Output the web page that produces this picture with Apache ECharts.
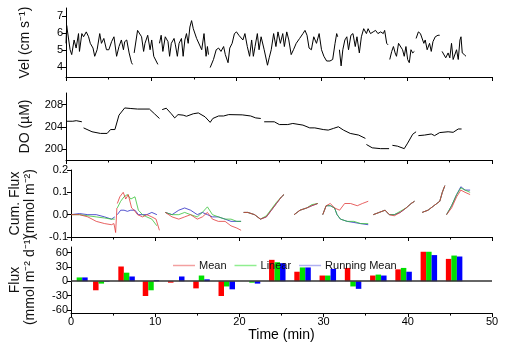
<!DOCTYPE html>
<html>
<head>
<meta charset="utf-8">
<script src="https://cdn.jsdelivr.net/npm/echarts@6/dist/echarts.min.js"></script>
<style>html,body{margin:0;padding:0;background:#fff;}#c{width:506px;height:343px;}</style>
</head>
<body>
<div id="c"></div>
<script>
// ---------- Velocity (cm s-1), segments of [time(min), value] ----------
const velSeg1 = [[0,5.4],[0.08,6.46],[0.48,5.02],[0.67,4.73],[0.95,5.6],[1.19,5.12],[1.47,5.98],[1.58,4.92],[1.86,5.98],[2.06,5.79],[2.38,6.08],[2.65,5.79],[2.85,5.4],[3.17,5.12],[3.37,4.63],[3.65,5.02],[3.96,5.98],[4.16,5.4],[4.44,5.69],[4.75,5.02],[5.03,5.02],[5.35,5.5],[5.63,5.79],[5.94,4.63],[6.22,5.21],[6.5,5.6],[6.74,5.02],[6.89,5.5],[7.13,5.6],[7.41,4.83],[7.69,4.25],[7.81,4.15]];
const velSeg2 = [[8.0,4.83],[8.4,6.17],[8.6,6.27],[8.87,5.79],[9.11,4.92],[9.27,5.4],[9.59,5.88],[9.87,5.02],[10.06,5.6],[10.3,4.63],[10.46,4.54],[10.78,4.15]];
const velSeg3 = [[10.97,5.4],[11.17,5.88],[11.37,4.92],[11.65,5.79],[11.97,5.5],[12.16,4.63],[12.36,5.4],[12.68,5.69],[12.84,5.31],[13.07,4.63],[13.27,5.4],[13.55,5.69],[13.75,4.63],[13.95,5.6],[14.14,5.98],[14.34,5.4],[14.54,6.37],[14.74,6.75],[14.94,6.27],[15.13,6.27],[15.33,5.69],[15.53,5.79],[15.93,5.02],[16.2,5.98],[16.44,4.63],[16.6,5.21],[16.72,4.73]];
const velSeg4 = [[16.92,3.96],[17.31,4.44],[17.63,5.02],[17.91,5.12],[18.19,4.92],[18.5,5.21],[18.7,4.73],[19.02,4.25],[19.22,5.12],[19.5,5.4],[19.77,5.98],[20.01,6.08],[20.29,5.88],[20.52,5.98],[20.76,5.6],[21.0,5.98],[21.28,5.21],[21.55,4.63],[21.79,5.6],[21.99,4.63],[22.19,5.21],[22.46,5.98],[22.66,5.02],[22.9,5.79],[23.26,5.02],[23.65,4.1],[23.85,4.54],[24.09,5.02],[24.37,5.98],[24.64,5.21],[24.88,6.08],[25.16,5.4],[25.44,5.98],[25.63,5.21],[25.91,6.08],[26.15,5.6],[26.43,4.73],[26.7,5.02],[27.02,5.4],[27.42,5.69],[27.81,5.98],[28.05,6.17],[28.29,5.88],[28.53,5.12],[28.8,5.02],[29.08,5.79],[29.4,5.4],[29.71,5.98],[29.99,5.02],[30.27,4.63],[30.59,4.35],[30.98,4.35],[31.3,4.44],[31.58,5.4],[31.77,5.98],[31.89,5.79]];
const velSeg5 = [[32.09,5.02],[32.29,4.06],[32.49,5.02],[32.73,5.6],[32.96,5.79],[33.16,5.02],[33.44,5.88],[33.68,5.98],[33.95,5.21],[34.15,5.79],[34.43,4.83],[34.67,5.79],[34.94,6.27],[35.26,5.98],[35.46,6.27],[35.74,5.98],[36.05,6.08],[36.33,6.17],[36.61,5.98],[36.93,6.08],[37.24,5.98],[37.4,6.17],[37.64,5.4],[37.8,5.31]];
const velSeg6 = [[38.0,4.44],[38.23,4.92],[38.43,5.21],[38.63,4.83],[38.79,4.63],[39.03,5.4],[39.22,5.5],[39.5,5.02],[39.7,4.63],[39.9,5.21],[40.1,4.44],[40.29,4.25],[40.49,5.02],[40.69,4.83],[40.89,4.92]];
const velSeg7 = [[41.09,5.69],[41.36,6.08],[41.6,5.98],[41.76,6.08],[42.0,5.4],[42.16,5.6],[42.39,5.02],[42.67,5.4],[42.87,4.92],[43.07,5.5],[43.34,5.79],[43.66,5.88],[43.86,5.88]];
const velSeg8 = [[44.14,4.92],[44.37,5.02],[44.57,4.54],[44.85,4.83],[45.05,4.54],[45.25,5.4],[45.44,4.44],[45.64,4.44],[45.84,5.02],[46.04,4.44],[46.24,5.6],[46.36,5.79],[46.51,4.83],[46.75,4.73],[46.95,4.63]];

// ---------- DO (µM) ----------
const doSeg1 = [[0,205.0],[0.8,205.0],[1.2,205.1],[1.86,204.9]];
const doSeg2 = [[2.06,203.8],[3.05,203.1],[4.04,202.8],[4.83,202.8],[5.23,203.5],[5.74,203.5],[6.22,206.1],[6.89,207.4],[7.61,207.3],[8.4,207.2],[9.79,207.2],[10.38,206.35],[10.97,205.5]];
const doSeg3 = [[11.29,207.1],[11.77,207.35],[12.36,206.35],[12.76,205.6],[13.15,206.2],[13.75,206.1],[14.14,205.9],[14.94,206.35],[15.53,206.5],[16.32,205.8],[16.92,204.8],[17.23,205.5],[17.91,205.95],[18.5,205.95],[19.1,206.2],[20.68,206.15],[21.67,205.95],[22.27,205.6],[22.86,205.5]];
const doSeg4 = [[23.26,204.9],[24.45,204.9],[25.04,204.4],[26.03,204.4],[26.62,204.6],[27.81,204.3],[28.61,203.8],[29.2,203.8],[30.19,203.5],[30.78,203.4],[31.38,203.7],[31.97,204.0],[32.57,203.4],[33.36,202.8],[34.35,202.5],[35.14,201.9]];
const doSeg5 = [[35.26,200.8],[35.94,200.2],[36.93,200.05],[37.92,200.05]];
const doSeg6 = [[38.31,200.65],[38.91,200.5],[39.7,200.05],[40.1,201.05],[40.69,202.65],[41.09,203.1]];
const doSeg7 = [[41.36,202.4],[42.08,202.5],[42.87,202.7],[43.26,202.4],[43.86,202.95],[44.85,203.1],[45.44,203.0],[46.04,203.6],[46.43,203.6]];

// ---------- Cumulative flux (mmol m-2) ----------
const cumMean = [
 [[0,0],[1,0],[2,-0.01],[3,-0.03],[4,-0.04],[4.8,-0.045],[5.1,-0.04],[5.3,-0.08],[5.45,0.03]],
 [[5.5,0.05],[5.8,0.08],[6.2,0.1],[6.5,0.07],[6.8,0.09],[7.2,0.03],[7.5,0.02],[7.9,0.0],[8.5,-0.01],[9,0],[9.6,-0.01],[10.1,-0.02],[10.5,-0.07]],
 [[11.2,0.01],[12,-0.01],[12.8,-0.02],[13.5,-0.01],[14.2,0.0],[15,-0.02],[15.6,-0.01],[16.2,0.01],[16.8,-0.02],[17.5,-0.03],[18.3,-0.03],[19,-0.05],[19.7,-0.06],[20.2,-0.07]],
 [[20.5,0.01],[21,0.01],[21.8,0.0],[22.5,-0.02],[23.2,-0.01],[23.8,0.02],[24.4,0.05],[25,0.08],[25.3,0.09]],
 [[26.5,0.0],[27.2,0.02],[28,0.03],[28.6,0.04],[29.3,0.05]],
 [[29.9,0.0],[30.3,0.04],[30.8,0.05],[31.3,0.03],[31.9,0.02],[32.5,0.05],[33.2,0.05],[34,0.04],[34.6,0.05],[35.3,0.06]],
 [[35.9,0.0],[36.6,0.01],[37.3,0.02],[37.8,0.0],[38.4,-0.005],[39.1,0.01],[39.8,0.03],[40.4,0.05],[40.8,0.06]],
 [[41.7,0.01],[42.4,0.02],[43.1,0.04],[43.8,0.06],[44.1,0.1],[44.4,0.13]],
 [[44.6,0.0],[45.2,0.03],[45.8,0.08],[46.3,0.11],[46.8,0.1],[47.4,0.09]]
];
const cumLinear = [
 [[0,0],[1,0.0],[2,-0.005],[3,-0.01],[4,-0.015],[4.8,-0.02],[5.2,-0.02]],
 [[5.5,0.03],[5.9,0.06],[6.3,0.08],[6.7,0.09],[7.1,0.07],[7.6,0.08],[8,0.02],[8.5,0.0],[9,-0.01],[9.6,-0.02],[10.2,-0.05]],
 [[11.2,0.01],[12,0.0],[12.8,0.0],[13.5,0.01],[14.2,0.0],[15,-0.01],[15.6,0.01],[16.2,0.035],[16.8,0.0],[17.5,-0.01],[18.3,-0.02],[19,-0.02],[19.7,-0.03],[20.2,-0.03]],
 [[20.5,0.01],[21,0.01],[21.8,0.0],[22.5,-0.02],[23.2,-0.005],[23.8,0.025],[24.4,0.055],[25,0.08],[25.3,0.09]],
 [[26.5,0.0],[27.2,0.02],[28,0.03],[28.6,0.045],[29.3,0.05]],
 [[29.9,0.0],[30.3,0.04],[30.8,0.04],[31.3,0.03],[31.6,0.0],[32,-0.02],[32.8,-0.03],[33.6,-0.03],[34.4,-0.04],[35.3,-0.04]],
 [[35.9,0.0],[36.6,0.01],[37.3,0.02],[37.8,0.0],[38.4,0.0],[39.1,0.015],[39.8,0.03],[40.4,0.05],[40.8,0.06]],
 [[41.7,0.01],[42.4,0.02],[43.1,0.04],[43.8,0.06],[44.1,0.1],[44.4,0.13]],
 [[44.6,0.0],[45.2,0.04],[45.8,0.09],[46.3,0.12],[46.8,0.11],[47.4,0.1]]
];
const cumRunning = [
 [[0,0],[1,0.005],[2,0.0],[3,0.0],[4,-0.01],[4.8,-0.02],[5.2,-0.01]],
 [[5.5,0.0],[5.9,0.02],[6.3,0.02],[6.7,0.015],[7.1,0.02],[7.6,0.02],[8,0.0],[8.5,0.0],[9,0.0],[9.6,0.01],[10.2,0.0]],
 [[11.2,0.01],[12,0.0],[12.8,0.02],[13.5,0.03],[14.2,0.02],[15,0.0],[15.6,0.01],[16.2,0.0],[16.8,-0.01],[17.5,-0.01],[18.3,-0.02],[19,-0.03],[19.7,-0.03],[20.2,-0.03]],
 [[20.5,0.01],[21,0.01],[21.8,0.0],[22.5,-0.02],[23.2,-0.01],[23.8,0.02],[24.4,0.05],[25,0.08],[25.3,0.09]],
 [[26.5,0.0],[27.2,0.02],[28,0.03],[28.6,0.04],[29.3,0.05]],
 [[29.9,0.0],[30.3,0.04],[30.8,0.04],[31.3,0.03],[31.6,0.0],[32,-0.02],[32.8,-0.03],[33.6,-0.035],[34.4,-0.04],[35.3,-0.045]],
 [[35.9,0.0],[36.6,0.01],[37.3,0.02],[37.8,0.0],[38.4,0.0],[39.1,0.01],[39.8,0.03],[40.4,0.05],[40.8,0.06]],
 [[41.7,0.01],[42.4,0.02],[43.1,0.04],[43.8,0.06],[44.1,0.1],[44.4,0.13]],
 [[44.6,0.0],[45.2,0.04],[45.8,0.09],[46.3,0.125],[46.8,0.11],[47.4,0.11]]
];

// ---------- Flux (mmol m-2 d-1) bars ----------
const fluxTimes   = [1.0, 3.6, 6.6, 9.5, 12.5, 15.5, 18.5, 21.5, 24.5, 27.5, 30.5, 33.5, 36.5, 39.5, 42.5, 45.5];
const fluxMean    = [0, -19, 31, -31, -3, -15, -31, 0, 45, 20, 12, 28, 12, 25, 62, 47];
const fluxLinear  = [8, -5, 18, -19, 0, 12, -11, -3, 40, 29, 12, -11, 14, 28, 62, 54];
const fluxRunning = [8, -1, 10, 2, 10, 4, -17, -5, 38, 29, 26, -16, 12, 20, 55, 52];

// ---------- tick labels ----------
const timeTicks = [0, 10, 20, 30, 40, 50];
const velTicks = [4, 5, 6, 7];
const doTicks = [200, 204, 208];
const cumTicks = [-0.1, 0.0, 0.1, 0.2];
const fluxTicks = [-60, -30, 0, 30, 60];

const velSegments = [velSeg1, velSeg2, velSeg3, velSeg4, velSeg5, velSeg6, velSeg7, velSeg8];
const doSegments = [doSeg1, doSeg2, doSeg3, doSeg4, doSeg5, doSeg6, doSeg7];

function joinSegs(segs) {
  const out = [];
  segs.forEach((s, i) => {
    if (i > 0) out.push([s[0][0], null]);
    s.forEach(p => out.push(p));
  });
  return out;
}

const FONT = "'Liberation Sans', Arial, sans-serif";
const grids = [
  {left: 66, right: 14, top: 8, height: 69},
  {left: 66, right: 14, top: 93, height: 67},
  {left: 66, right: 14, top: 170, height: 67},
  {left: 66, right: 14, top: 247, height: 69}
];

function xAx(i) {
  const last = i === 3;
  return {
    type: 'value', gridIndex: i, min: 0, max: 50, interval: 10,
    axisLine: {show: true, onZero: false, lineStyle: {color: '#000', width: 1}},
    axisTick: {show: true, length: 4, lineStyle: {color: '#000'}},
    minorTick: {show: true, splitNumber: 2, length: 2.5, lineStyle: {color: '#000'}},
    splitLine: {show: false},
    axisLabel: {show: last, color: '#000', fontSize: 11, fontFamily: FONT, margin: 3,
      customValues: timeTicks},
    name: last ? 'Time (min)' : '',
    nameLocation: 'middle', nameGap: 12,
    nameTextStyle: {color: '#000', fontSize: 14, fontFamily: FONT}
  };
}

function yAx(i, min, max, ticks, name, fmt) {
  return {
    type: 'value', gridIndex: i, min: min, max: max,
    axisLine: {show: true, onZero: false, lineStyle: {color: '#000', width: 1}},
    axisTick: {show: true, length: 4, lineStyle: {color: '#000'}, customValues: ticks},
    splitLine: {show: false},
    axisLabel: {color: '#000', fontSize: 11, fontFamily: FONT, margin: 3, customValues: ticks,
      formatter: fmt || (v => String(v))},
    name: name, nameLocation: 'middle', nameGap: 33, nameRotate: 90,
    nameTextStyle: {color: '#111', fontSize: 14, fontFamily: FONT, lineHeight: 15}
  };
}

const lineBase = {type: 'line', showSymbol: false, symbol: 'none', connectNulls: false, animation: false};

const option = {
  animation: false,
  backgroundColor: '#fff',
  textStyle: {fontFamily: FONT},
  grid: grids,
  xAxis: [xAx(0), xAx(1), xAx(2), xAx(3)],
  yAxis: [
    yAx(0, 3.4, 7.5, velTicks, 'Vel (cm s\u207B\u00B9)'),
    yAx(1, 198, 210.1, doTicks, 'DO (\u00B5M)'),
    yAx(2, -0.1, 0.2, cumTicks, 'Cum. Flux\n(mmol m\u207B\u00B2)', v => v.toFixed(1)),
    yAx(3, -67, 72, fluxTicks, 'Flux\n(mmol m\u207B\u00B2 d\u207B\u00B9)')
  ],
  legend: {
    data: [
      {name: 'Mean', itemStyle: {color: '#f3a0a0'}},
      {name: 'Linear', itemStyle: {color: '#90ee90'}},
      {name: 'Running Mean', itemStyle: {color: '#b0b0f0'}}
    ],
    left: 168, top: 255, icon: 'rect', itemWidth: 22, itemHeight: 1.5, itemGap: 8,
    textStyle: {color: '#111', fontSize: 11, fontFamily: FONT, padding: [0, 0, 0, -1]},
    selectedMode: false
  },
  series: [
    Object.assign({}, lineBase, {name: 'vel', xAxisIndex: 0, yAxisIndex: 0,
      data: joinSegs(velSegments), lineStyle: {color: '#000', width: 1}}),
    Object.assign({}, lineBase, {name: 'do', xAxisIndex: 1, yAxisIndex: 1,
      data: joinSegs(doSegments), lineStyle: {color: '#000', width: 1}}),
    Object.assign({}, lineBase, {name: 'cumRunning', xAxisIndex: 2, yAxisIndex: 2,
      data: joinSegs(cumRunning), lineStyle: {color: '#2020c0', width: 0.9, opacity: 0.85}}),
    Object.assign({}, lineBase, {name: 'cumLinear', xAxisIndex: 2, yAxisIndex: 2,
      data: joinSegs(cumLinear), lineStyle: {color: '#30c030', width: 0.9, opacity: 0.85}}),
    Object.assign({}, lineBase, {name: 'cumMean', xAxisIndex: 2, yAxisIndex: 2,
      data: joinSegs(cumMean), lineStyle: {color: '#e03030', width: 0.9, opacity: 0.85}}),
    {type: 'bar', name: 'Mean', xAxisIndex: 3, yAxisIndex: 3, barWidth: 5.5, barGap: '0%',
      data: fluxTimes.map((t, i) => [t, fluxMean[i]]), itemStyle: {color: '#ff0000'},
      markLine: {silent: true, symbol: 'none', label: {show: false},
        lineStyle: {color: '#333', width: 1.5, type: 'solid'}, data: [{yAxis: 0}]}},
    {type: 'bar', name: 'Linear', xAxisIndex: 3, yAxisIndex: 3, barWidth: 5.5, barGap: '0%',
      data: fluxTimes.map((t, i) => [t, fluxLinear[i]]), itemStyle: {color: '#00e000'}},
    {type: 'bar', name: 'Running Mean', xAxisIndex: 3, yAxisIndex: 3, barWidth: 5.5, barGap: '0%',
      data: fluxTimes.map((t, i) => [t, fluxRunning[i]]), itemStyle: {color: '#0000ff'}}
  ]
};

const chart = echarts.init(document.getElementById('c'), null, {renderer: 'canvas'});
chart.setOption(option);
</script>
</body>
</html>
